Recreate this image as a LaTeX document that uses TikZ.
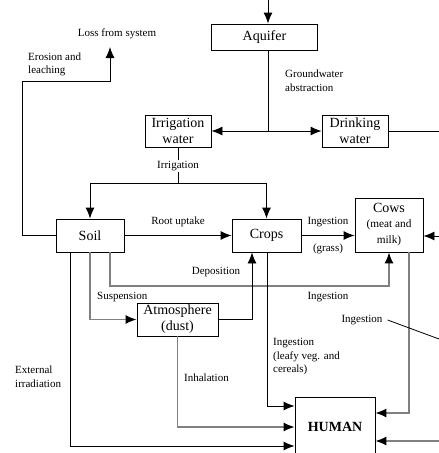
\documentclass[tikz,border=0pt]{standalone}
\usepackage{fontspec}
\setmainfont{Liberation Serif}
\usetikzlibrary{arrows.meta}
\begin{document}
\begin{tikzpicture}[x=1pt,y=-1pt,
  box/.style={draw,line width=0.9pt,inner sep=0pt,align=center,font=\fontsize{14}{16}\selectfont},
  lbl/.style={inner sep=0pt,font=\fontsize{11}{13.5}\selectfont},
  blk/.style={line width=0.9pt,black},
  gry/.style={line width=1.2pt,black!50},
  arr/.style={-{Latex[length=11pt,width=9pt,color=black]}},
]
\useasboundingbox (0,0) rectangle (439,453);
% boxes
\node[box,minimum width=106pt,minimum height=26pt] (aq) at (264.5,37) {Aquifer};
\node[box,minimum width=66pt,minimum height=32pt] (iw) at (178,131) {Irrigation\\water};
\node[box,minimum width=66pt,minimum height=32pt] (dw) at (355,131) {Drinking\\water};
\node[box,minimum width=68pt,minimum height=33pt] (soil) at (90,235.5) {Soil};
\node[box,minimum width=69pt,minimum height=33pt] (crops) at (266.5,235.5) {Crops};
\node[box,minimum width=68pt,minimum height=54pt] (cows) at (389,225) {Cows\\[-1pt]\fontsize{11.3}{12}\selectfont(meat and\\\fontsize{11.3}{12}\selectfont milk)};
\node[box,minimum width=81pt,minimum height=33pt] (atm) at (177.5,319.5) {Atmosphere\\(dust)};
\node[box,minimum width=80pt,minimum height=60pt,font=\fontsize{14}{16}\selectfont\bfseries] (hum) at (335,427) {HUMAN};
% coordinates
\coordinate (top) at (268,0);
\coordinate (split) at (268,131);
\coordinate (dwout) at (439,131);
\coordinate (irr) at (178,183);
\coordinate (e1) at (22,235.5);
\coordinate (e2) at (22,81);
\coordinate (e3) at (110,81);
\coordinate (loss) at (110,47);
\coordinate (s1) at (70,446);
\coordinate (d1) at (110,286);
\coordinate (a1) at (252,319.5);
\coordinate (c1) at (267,406);
\coordinate (w1) at (409,413);
\coordinate (r1) at (439,441);
\coordinate (r2) at (439,236);
\coordinate (lead) at (439,339);
% water
\draw[blk,arr] (top) -- (top |- aq.north);
\draw[blk] (aq.south -| split) -- (split);
\draw[blk,arr] (split) -- (iw.east);
\draw[blk,arr] (split) -- (dw.west);
\draw[blk] (dw.east) -- (dwout);
\draw[blk] (iw.south) -- (irr);
\draw[blk,arr] (irr) -| (soil.north);
\draw[blk,arr] (irr) -| (crops.north);
% erosion
\draw[blk,arr] (soil.west) -- (e1) -- (e2) -- (e3) -- (loss);
% soil flows
\draw[blk,arr] (soil.east) -- (crops.west);
\draw[blk,arr] (crops.east) -- (crops.east -| cows.west);
\draw[blk,arr] (r2) -- (r2 -| cows.east);
\draw[blk,arr] (soil.south -| s1) -- (s1) -- (s1 -| hum.west);
\draw[gry,arr] (soil.south) |- (atm.west);
\draw[gry,arr] (soil.south -| d1) -- (d1) -| (cows.south);
\draw[blk,arr] (atm.east) -- (a1) -- (a1 |- crops.south);
\draw[blk,arr] (crops.south -| c1) -- (c1) -- (c1 -| hum.west);
\draw[gry,arr] (atm.south) |- (hum.west);
\draw[gry,arr] (cows.south -| w1) -- (w1) -- (w1 -| hum.east);
\draw[gry,arr] (r1) -- (r1 -| hum.east);
% labels
\node[lbl] (loss-t) at (117,34) {Loss from system};
\node[lbl,anchor=west,align=left] (ero) at (28,64.5) {Erosion and\\leaching};
\node[lbl,anchor=west,align=left,font=\fontsize{11}{14}\selectfont] (gw) at (285,81) {Groundwater\\abstraction};
\node[lbl,fill=white,inner sep=1pt] (irr-t) at (178,166) {Irrigation};
\node[lbl] (root) at (178,222) {Root uptake};
\node[lbl] (ing1) at (328,222) {Ingestion};
\node[lbl] (grass) at (328,249) {(grass)};
\node[lbl] (dep) at (216,272) {Deposition};
\node[lbl,anchor=west] (susp) at (97,297) {Suspension};
\node[lbl] (ing2) at (328,297) {Ingestion};
\node[lbl] (ing3) at (362,320) {Ingestion};
\draw[line width=0.8pt] ([xshift=5pt]ing3.east) -- (lead);
\node[lbl,anchor=west,align=left] (leafy) at (273,357) {Ingestion\\(leafy veg. and\\cereals)};
\node[lbl,anchor=west,align=left] (ext) at (15,376.5) {External\\irradiation};
\node[lbl,anchor=west] (inh) at (184,378) {Inhalation};
\end{tikzpicture}
\end{document}
